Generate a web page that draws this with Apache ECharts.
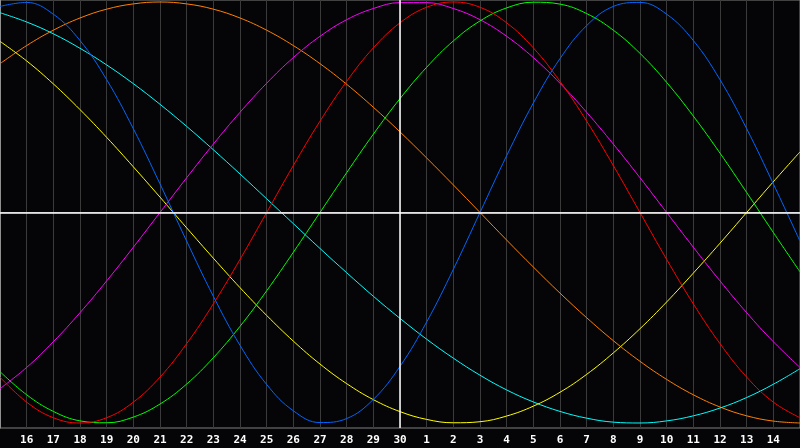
<!DOCTYPE html>
<html>
<head>
<meta charset="utf-8">
<script src="https://cdn.jsdelivr.net/npm/echarts@6/dist/echarts.min.js"></script>
<style>
html,body{margin:0;padding:0;background:#050507;}
#c{width:800px;height:448px;}
</style>
</head>
<body>
<div id="c"></div>
<script>
// day labels for positions 0..30 (15th of previous month to 15th of next)
var dayLabels = [15,16,17,18,19,20,21,22,23,24,25,26,27,28,29,30,1,2,3,4,5,6,7,8,9,10,11,12,13,14,15];

var physical = [0.979,0.998,0.942,0.817,0.631,0.398,0.136,-0.136,-0.398,-0.631,-0.817,-0.942,-0.998,-0.979,-0.888,-0.731,-0.520,-0.270,0,0.270,0.520,0.731,0.888,0.979,0.998,0.942,0.817,0.631,0.398,0.136,-0.136];
var emotional = [-0.782,-0.901,-0.975,-1,-0.975,-0.901,-0.782,-0.623,-0.434,-0.223,0,0.223,0.434,0.623,0.782,0.901,0.975,1,0.975,0.901,0.782,0.623,0.434,0.223,0,-0.223,-0.434,-0.623,-0.782,-0.901,-0.975];
var intellectual = [-0.756,-0.866,-0.945,-0.990,-0.999,-0.972,-0.910,-0.815,-0.690,-0.541,-0.372,-0.189,0,0.189,0.372,0.541,0.690,0.815,0.910,0.972,0.999,0.990,0.945,0.866,0.756,0.618,0.458,0.282,0.095,-0.095,-0.282];
var spiritual = [0.949,0.905,0.849,0.780,0.701,0.612,0.514,0.409,0.298,0.183,0.065,-0.053,-0.171,-0.286,-0.398,-0.503,-0.602,-0.692,-0.773,-0.843,-0.900,-0.945,-0.977,-0.996,-1.000,-0.990,-0.966,-0.929,-0.879,-0.816,-0.742];
var aesthetic = [0.813,0.720,0.611,0.489,0.357,0.217,0.073,-0.073,-0.217,-0.357,-0.489,-0.611,-0.720,-0.813,-0.889,-0.946,-0.983,-0.999,-0.994,-0.967,-0.920,-0.854,-0.769,-0.667,-0.552,-0.425,-0.288,-0.146,0,0.146,0.288];
var intuitive = [-0.837,-0.736,-0.614,-0.476,-0.325,-0.165,0,0.165,0.325,0.476,0.614,0.736,0.837,0.916,0.969,0.997,0.997,0.969,0.916,0.837,0.736,0.614,0.476,0.325,0.165,0,-0.165,-0.325,-0.476,-0.614,-0.736];
var awareness = [0.707,0.793,0.866,0.924,0.966,0.991,1,0.991,0.966,0.924,0.866,0.793,0.707,0.609,0.5,0.383,0.259,0.131,0,-0.131,-0.259,-0.383,-0.5,-0.609,-0.707,-0.793,-0.866,-0.924,-0.966,-0.991,-1];

var seriesDefs = [
  {name:'Awareness', data:awareness, color:'#ff8000'},
  {name:'Spiritual', data:spiritual, color:'#00ffff'},
  {name:'Aesthetic', data:aesthetic, color:'#ffff00'},
  {name:'Intuitive', data:intuitive, color:'#ff00ff'},
  {name:'Intellectual', data:intellectual, color:'#00ff00'},
  {name:'Emotional', data:emotional, color:'#ff0000'},
  {name:'Physical', data:physical, color:'#0066ff'}
];

function pairs(arr){ return arr.map(function(v,i){ return [i,v]; }); }

var series = [{
  type:'line', data:[], silent:true, z:1,
  markLine:{
    silent:true, symbol:'none', animation:false,
    label:{show:false},
    lineStyle:{color:'#ffffff', type:'solid', width:1.5},
    data:[{yAxis:0},{xAxis:15}]
  }
}];
seriesDefs.forEach(function(s){
  series.push({
    name:s.name, type:'line', data:pairs(s.data), smooth:0.4,
    showSymbol:false, symbol:'none', z:3,
    lineStyle:{color:s.color, width:1},
    itemStyle:{color:s.color},
    animation:false
  });
});

var chart = echarts.init(document.getElementById('c'), null, {renderer:'canvas'});
chart.setOption({
  backgroundColor:'#050507',
  animation:false,
  grid:{left:0, right:0, top:0, bottom:20, show:true, borderColor:'#808080', borderWidth:1, backgroundColor:'transparent'},
  xAxis:{
    type:'value', min:0, max:30, interval:1,
    axisLine:{show:true, lineStyle:{color:'#909090', width:1}},
    axisTick:{show:false},
    splitLine:{show:true, lineStyle:{color:'#3a3a3a', width:1}},
    axisLabel:{
      show:true, showMinLabel:false, showMaxLabel:false,
      color:'#ffffff', fontFamily:'DejaVu Sans Mono', fontWeight:'bold', fontSize:11, margin:7,
      formatter:function(v){ return String(dayLabels[Math.round(v)]); }
    }
  },
  yAxis:{
    type:'value', min:-1.0238, max:1.0095,
    axisLine:{show:true, lineStyle:{color:'#909090'}},
    axisTick:{show:false}, axisLabel:{show:false},
    splitLine:{show:false}
  },
  series:series
});
</script>
</body>
</html>
